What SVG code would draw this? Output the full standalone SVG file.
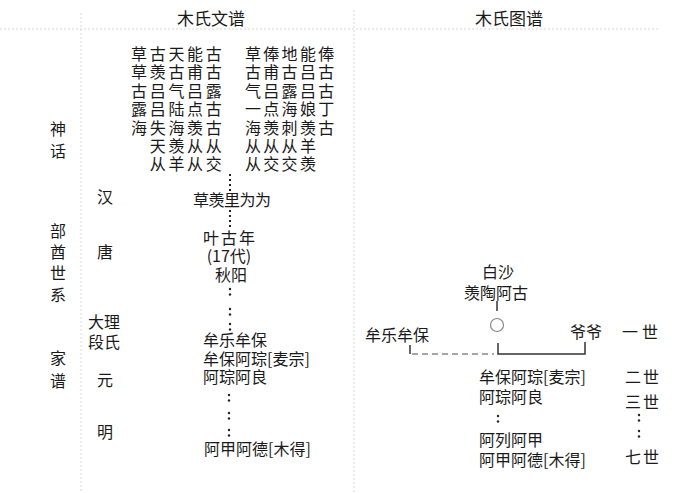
<svg xmlns="http://www.w3.org/2000/svg" xmlns:xlink="http://www.w3.org/1999/xlink" width="700" height="493" viewBox="0 0 700 493">
<style>
  text { font-family: "Noto Sans CJK SC", "Noto Sans", sans-serif; font-size: 16px; fill: #1a1a1a; }
  .title { font-size: 17px; text-anchor: middle; }
  .mid { text-anchor: middle; }
  .grid { stroke: #d8d8d8; stroke-width: 1; stroke-dasharray: 2 2; fill: none; }
  .dots { stroke: #222; stroke-width: 2; stroke-dasharray: 2 3; fill: none; }
  .solid { stroke: #333; stroke-width: 1.5; fill: none; }
  .dash { stroke: #888; stroke-width: 1.3; stroke-dasharray: 6 4; fill: none; }
</style>
<defs>
  <g id="colon"><circle cx="0" cy="0" r="1.2" fill="#222"/><circle cx="0" cy="5.5" r="1.2" fill="#222"/></g>
</defs>
<rect width="700" height="493" fill="#ffffff"/>

<g id="grid">
  <line class="grid" x1="0" y1="29" x2="660" y2="29"/>
  <line class="grid" x1="81" y1="13" x2="81" y2="493"/>
  <line class="grid" x1="354" y1="10" x2="354" y2="493"/>
</g>

<g id="titles">
  <text class="title" x="211" y="24.5">木氏文谱</text>
  <text class="title" x="509" y="24.5">木氏图谱</text>
</g>

<g id="left-labels">
  <text><tspan x="50" y="135">神</tspan><tspan x="50" y="157">话</tspan></text>
  <text><tspan x="50" y="237">部</tspan><tspan x="50" y="258">酋</tspan><tspan x="50" y="279">世</tspan><tspan x="50" y="301">系</tspan></text>
  <text><tspan x="50" y="364">家</tspan><tspan x="50" y="387">谱</tspan></text>
</g>

<g id="dynasties">
  <text x="97" y="203">汉</text>
  <text x="97" y="258">唐</text>
  <text><tspan x="88" y="328">大理</tspan><tspan x="88" y="348">段氏</tspan></text>
  <text x="97" y="386">元</text>
  <text x="97" y="438">明</text>
</g>

<g id="myth-left">
  <text><tspan x="131 149.7 168.4 187.1 205.8" y="60">草古天能古</tspan><tspan x="131 149.7 168.4 187.1 205.8" y="78.4">草羡古甫古</tspan><tspan x="131 149.7 168.4 187.1 205.8" y="96.8">古吕气吕露</tspan><tspan x="131 149.7 168.4 187.1 205.8" y="115.2">露吕陆点古</tspan><tspan x="131 149.7 168.4 187.1 205.8" y="133.6">海失海羡古</tspan><tspan x="149.7 168.4 187.1 205.8" y="152">天羡从从</tspan><tspan x="149.7 168.4 187.1 205.8" y="170.4">从羊从交</tspan></text>
</g>

<g id="myth-right">
  <text><tspan x="245 263.3 281.6 300 318.3" y="60">草俸地能俸</tspan><tspan x="245 263.3 281.6 300 318.3" y="78.4">古甫古吕古</tspan><tspan x="245 263.3 281.6 300 318.3" y="96.8">气吕露吕古</tspan><tspan x="245 263.3 281.6 300 318.3" y="115.2">一点海娘丁</tspan><tspan x="245 263.3 281.6 300 318.3" y="133.6">海羡刺羡古</tspan><tspan x="245 263.3 281.6 300" y="152">从从从羊</tspan><tspan x="245 263.3 281.6 300" y="170.4">从交交羡</tspan></text>
</g>

<g id="connectors">
  <line class="dots" x1="230" y1="174" x2="230" y2="193"/>
  <line class="dots" x1="230" y1="210" x2="230" y2="229"/>
  <use xlink:href="#colon" x="230" y="289"/>
  <use xlink:href="#colon" x="230" y="309"/>
  <use xlink:href="#colon" x="230" y="324"/>
  <use xlink:href="#colon" x="229" y="395"/>
  <use xlink:href="#colon" x="229" y="413"/>
  <use xlink:href="#colon" x="229" y="430"/>
  <line class="solid" x1="497" y1="301" x2="497" y2="311"/>
  <polyline class="solid" points="410,345 410,354"/>
  <line class="dash" x1="412" y1="354" x2="494" y2="354"/>
  <polyline class="solid" points="498,343 498,354 585,354 585,342"/>
  <use xlink:href="#colon" x="498" y="416"/>
  <use xlink:href="#colon" x="639" y="415"/>
  <use xlink:href="#colon" x="639" y="431"/>
</g>

<g id="lineage-left">
  <text x="193 208.5 224 239.5 255" y="206">草羡里为为</text>
  <text><tspan x="203 221 239" y="244">叶古年</tspan><tspan class="mid" x="229" y="262">(17代)</tspan><tspan class="mid" x="231" y="281">秋阳</tspan></text>
  <text><tspan x="203" y="346">牟乐牟保</tspan><tspan x="203" y="365">牟保阿琮[麦宗]</tspan><tspan x="203" y="383">阿琮阿良</tspan></text>
  <text x="204" y="455">阿甲阿德[木得]</text>
</g>

<g id="node-baisha">
  <text class="mid"><tspan x="498" y="278">白沙</tspan><tspan x="496" y="299">羡陶阿古</tspan></text>
  <circle cx="497" cy="325" r="6.5" fill="#fff" stroke="#888" stroke-width="1.2"/>
</g>
<g id="node-mouleroubao">
  <text x="365" y="341">牟乐牟保</text>
</g>
<g id="node-yeye">
  <text x="570" y="338">爷爷</text>
</g>
<g id="lineage-right">
  <text><tspan x="479" y="383">牟保阿琮[麦宗]</tspan><tspan x="479" y="403">阿琮阿良</tspan></text>
  <text><tspan x="479" y="446">阿列阿甲</tspan><tspan x="479" y="466">阿甲阿德[木得]</tspan></text>
</g>
<g id="generations">
  <text x="622 642" y="338">一世</text>
  <text><tspan x="625 643" y="383">二世</tspan><tspan x="625 643" y="408">三世</tspan></text>
  <text x="625 643" y="463">七世</text>
</g>
</svg>
